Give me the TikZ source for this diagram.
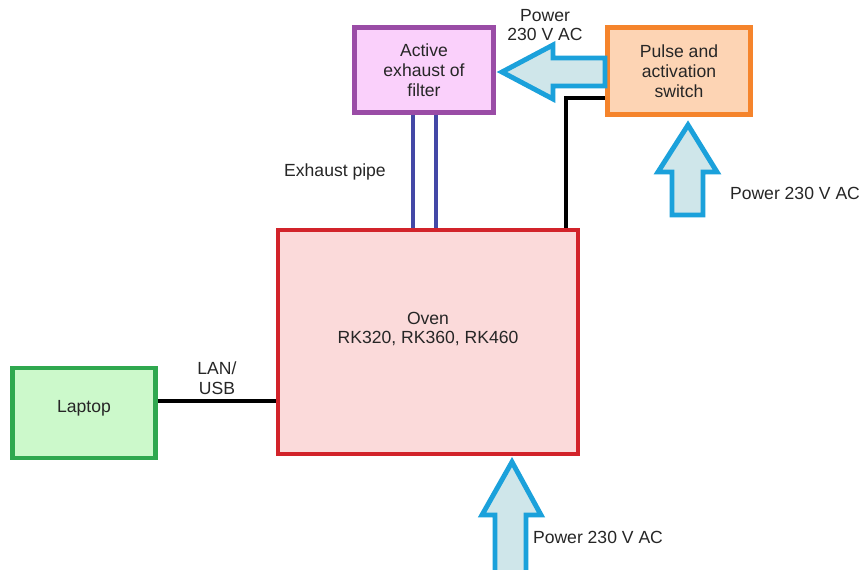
\documentclass[tikz,border=0pt]{standalone}
\usepackage{fontspec}
\setmainfont{Liberation Sans}
\definecolor{arrowblue}{RGB}{27,161,219}
\definecolor{arrowfill}{RGB}{207,230,234}
\definecolor{filterline}{RGB}{154,76,166}
\definecolor{filterfill}{RGB}{250,208,251}
\definecolor{switchline}{RGB}{245,132,44}
\definecolor{switchfill}{RGB}{253,212,180}
\definecolor{ovenline}{RGB}{210,35,42}
\definecolor{ovenfill}{RGB}{251,218,218}
\definecolor{laptopline}{RGB}{47,168,79}
\definecolor{laptopfill}{RGB}{204,249,203}
\definecolor{pipeblue}{RGB}{67,72,166}

\begin{document}
\begin{tikzpicture}
  [x=0.02cm, y=-0.02cm,
   every node/.style={font=\fontsize{10pt}{11.3pt}\selectfont, text=black!85, align=center},
   unit/.style={draw, line width=2.8pt, inner sep=0pt},
   pwrarrow/.style={draw=arrowblue, fill=arrowfill, line width=2.8pt, line join=miter},
   pipe/.style={draw=pipeblue, line width=2.8pt},
   cable/.style={draw=black, line width=2.4pt}]
  \clip (0,0) rectangle (863,569);
  \fill[white] (0,0) rectangle (863,569);
  \node[unit, draw=filterline, fill=filterfill, minimum width=139*0.02cm, minimum height=85*0.02cm]
     (filter) at (424,70) {Active\\exhaust of\\filter};
  \node[unit, draw=switchline, fill=switchfill, minimum width=143*0.02cm, minimum height=87*0.02cm]
     (switch) at (679,71) {Pulse and\\activation\\switch};
  \node[unit, draw=ovenline, fill=ovenfill, minimum width=300*0.02cm, minimum height=224*0.02cm]
     (oven) at (428,342) {};
  \node (ovenlbl) at (428,329) {Oven\\RK320, RK360, RK460};
  \node[unit, draw=laptopline, fill=laptopfill, minimum width=143*0.02cm, minimum height=90*0.02cm]
     (laptop) at (84,413) {};
  \node (laptoplbl) at (84,408) {Laptop};

  \draw[pipe] (filter.south -| 413,0) -- (oven.north -| 413,0);
  \draw[pipe] (filter.south -| 436,0) -- (oven.north -| 436,0);
  \draw[cable] (switch.west |- 0,98) -| (oven.north -| 566,0);
  \draw[cable] (laptop.east |- 0,401) -- (oven.west |- 0,401);

  \draw[pwrarrow] (502,72) -- (553,45) -- (553,58) -- (605,58) -- (605,86) -- (553,86) -- (553,99) -- cycle;
  \draw[pwrarrow] (688,125) -- (717,172) -- (703,172) -- (703,215) -- (672,215) -- (672,172) -- (658,172) -- cycle;
  \draw[pwrarrow] (512,462) -- (541,515) -- (526,515) -- (526,575) -- (495,575) -- (495,515) -- (482,515) -- cycle;

  \node (pwrfilter) at (545,25) {Power\\230 V AC};
  \node (pipelbl) at (335,172) {Exhaust pipe};
  \node (pwrswitch) at (795,193) {Power 230 V AC};
  \node (pwroven) at (598,537) {Power 230 V AC};
  \node (lanlbl) at (217,378) {LAN/\\USB};
\end{tikzpicture}
\end{document}
